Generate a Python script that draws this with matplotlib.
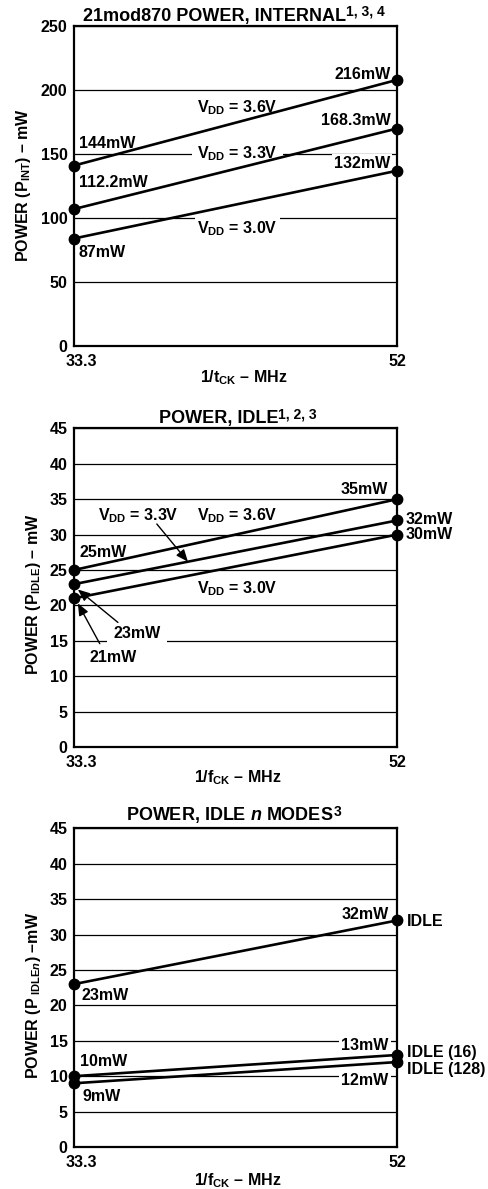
import numpy as np
import matplotlib
matplotlib.use("Agg")
import matplotlib.pyplot as plt
from matplotlib.transforms import ScaledTranslation

plt.rcParams["font.family"] = ["Liberation Sans", "DejaVu Sans"]
plt.rcParams["font.weight"] = "bold"
plt.rcParams["mathtext.fontset"] = "custom"
plt.rcParams["mathtext.rm"] = "Liberation Sans:bold"
plt.rcParams["mathtext.bf"] = "Liberation Sans:bold"
plt.rcParams["mathtext.it"] = "Liberation Sans:bold:italic"

# clock frequency (MHz) at the two ends of each line
freq = [33.3, 52]
freq_ticks = ["33.3", "52"]

# internal power, mW (as plotted)
int_36 = [141, 208]
int_33 = [107, 170]
int_30 = [84, 137]

# idle power, mW
idle_36 = [25, 35]
idle_33 = [23, 32]
idle_30 = [21, 30]

# idle n modes, mW
idlen_idle = [23, 32]
idlen_16 = [10, 13]
idlen_128 = [9, 12]

FS = 11.5
WHITE = dict(facecolor="white", edgecolor="none", pad=1.5)

fig = plt.figure(figsize=(4.89, 11.89), dpi=100)
ax1 = fig.add_axes([0.151, 0.709, 0.661, 0.269])
ax2 = fig.add_axes([0.151, 0.3717, 0.661, 0.268])
ax3 = fig.add_axes([0.151, 0.0353, 0.661, 0.268])


def setup(ax, ymax, ystep):
    ax.set_xlim(freq[0], freq[1])
    ax.set_ylim(0, ymax)
    ax.set_xticks(freq)
    ax.set_xticklabels(freq_ticks)
    ax.set_yticks(np.arange(0, ymax + 1, ystep))
    ax.tick_params(length=0, labelsize=FS)
    ax.tick_params(axis="x", pad=5.5)
    ax.tick_params(axis="y", pad=4.5)
    # the 33.3 label sits a bit right of the axis corner
    lab = ax.get_xticklabels()[0]
    lab.set_transform(lab.get_transform() + ScaledTranslation(0.07, 0, fig.dpi_scale_trans))
    ax.set_axisbelow(True)
    ax.grid(axis="y", color="black", lw=0.9)
    for s in ax.spines.values():
        s.set_linewidth(1.6)


def series(ax, ys):
    ax.plot(freq, ys, color="black", lw=1.9, marker="o", ms=7.5,
            clip_on=False, zorder=6)


def txt(ax, x, y, s, ha="left", box=False, **kw):
    ax.text(x, y, s, ha=ha, va="baseline", fontsize=FS, zorder=4,
            bbox=WHITE if box else None, **kw)


def arrow(ax, head, tail):
    ax.annotate("", xy=head, xytext=tail, zorder=7,
                arrowprops=dict(arrowstyle="-|>,head_length=0.6,head_width=0.25",
                                mutation_scale=12, lw=1, color="black",
                                shrinkA=0, shrinkB=0))


def title(ax, x, y, main, sup, dx, rise):
    t = ax.text(x, y, main, transform=ax.transAxes, ha="left", va="baseline", fontsize=13)
    ax.annotate(sup, xy=(1, 0), xycoords=t, xytext=(dx, rise), textcoords="offset points",
                ha="left", va="baseline", fontsize=10)


# ---- internal power ----
setup(ax1, 250, 50)
for ys in (int_36, int_33, int_30):
    series(ax1, ys)
txt(ax1, 51.66, 208.6, "216mW", ha="right")
txt(ax1, 51.66, 172.7, "168.3mW", ha="right")
txt(ax1, 51.6, 138.8, "132mW", ha="right", box=True)
txt(ax1, 33.59, 154.4, "144mW")
txt(ax1, 33.59, 124, "112.2mW")
txt(ax1, 33.59, 69.3, "87mW")
txt(ax1, 42.77, 183, r"V$_{\mathrm{DD}}$ = 3.6V", ha="center")
ax1.text(42.77, 146.6, r"V$_{\mathrm{DD}}$ = 3.3V", ha="center", va="baseline",
         fontsize=FS, zorder=4, bbox=dict(facecolor="white", edgecolor="none", pad=4))
txt(ax1, 42.77, 88, r"V$_{\mathrm{DD}}$ = 3.0V", ha="center", box=True)
title(ax1, 0.028, 1.0166, "21mod870 POWER, INTERNAL", "1, 3, 4", 0, 6.5)
ax1.text(0.526, -0.115, r"1/t$_{\mathrm{CK}}$ – MHz", transform=ax1.transAxes,
         ha="center", va="baseline", fontsize=FS)
ax1.text(-0.155, 0.503, r"POWER (P$_{\mathrm{INT}}$) – mW", transform=ax1.transAxes,
         ha="center", va="center", rotation=90, fontsize=FS)

# ---- idle power ----
setup(ax2, 45, 5)
for ys in (idle_36, idle_33, idle_30):
    series(ax2, ys)
txt(ax2, 51.5, 35.8, "35mW", ha="right")
txt(ax2, 52.52, 31.5, "32mW")
txt(ax2, 52.52, 29.4, "30mW")
txt(ax2, 33.65, 26.9, "25mW")
txt(ax2, 37.02, 32.0, r"V$_{\mathrm{DD}}$ = 3.3V", ha="center")
txt(ax2, 42.74, 32.0, r"V$_{\mathrm{DD}}$ = 3.6V", ha="center")
txt(ax2, 42.74, 21.7, r"V$_{\mathrm{DD}}$ = 3.0V", ha="center")
ax2.text(35.58, 15.45, "23mW", ha="left", va="baseline", fontsize=FS, zorder=4,
         bbox=dict(facecolor="white", edgecolor="none", pad=4.5))
txt(ax2, 34.19, 12.0, "21mW")
arrow(ax2, (39.9, np.interp(39.9, freq, idle_33)), (38.1, 31.5))
arrow(ax2, (33.53, 22.25), (35.85, 17.6))
arrow(ax2, (33.53, 20.3), (34.8, 14.6))
title(ax2, 0.263, 1.0166, "POWER, IDLE", "1, 2, 3", 0, 6.5)
ax2.text(0.506, -0.112, r"1/f$_{\mathrm{CK}}$ – MHz", transform=ax2.transAxes,
         ha="center", va="baseline", fontsize=FS)
ax2.text(-0.124, 0.481, r"POWER (P$_{\mathrm{IDLE}}$) – mW", transform=ax2.transAxes,
         ha="center", va="center", rotation=90, fontsize=FS)

# ---- idle n modes ----
setup(ax3, 45, 5)
for ys in (idlen_idle, idlen_16, idlen_128):
    series(ax3, ys)
txt(ax3, 51.5, 32.2, "32mW", ha="right")
txt(ax3, 52.56, 31.2, "IDLE")
txt(ax3, 33.74, 20.8, "23mW")
txt(ax3, 33.65, 11.45, "10mW")
txt(ax3, 33.8, 6.5, "9mW")
txt(ax3, 51.5, 13.75, "13mW", ha="right", box=True)
txt(ax3, 51.5, 8.7, "12mW", ha="right", box=True)
txt(ax3, 52.56, 12.7, "IDLE (16)")
txt(ax3, 52.56, 10.3, "IDLE (128)")
title(ax3, 0.161, 1.027, r"POWER, IDLE $n$ MODES", "3", 0.3, 6.5)
ax3.text(0.506, -0.121, r"1/f$_{\mathrm{CK}}$ – MHz", transform=ax3.transAxes,
         ha="center", va="baseline", fontsize=FS)
ax3.text(-0.124, 0.476, r"POWER (P$_{\ \mathrm{IDLE}n}$) –mW", transform=ax3.transAxes,
         ha="center", va="center", rotation=90, fontsize=FS)

fig.savefig("out.png", dpi=100)
